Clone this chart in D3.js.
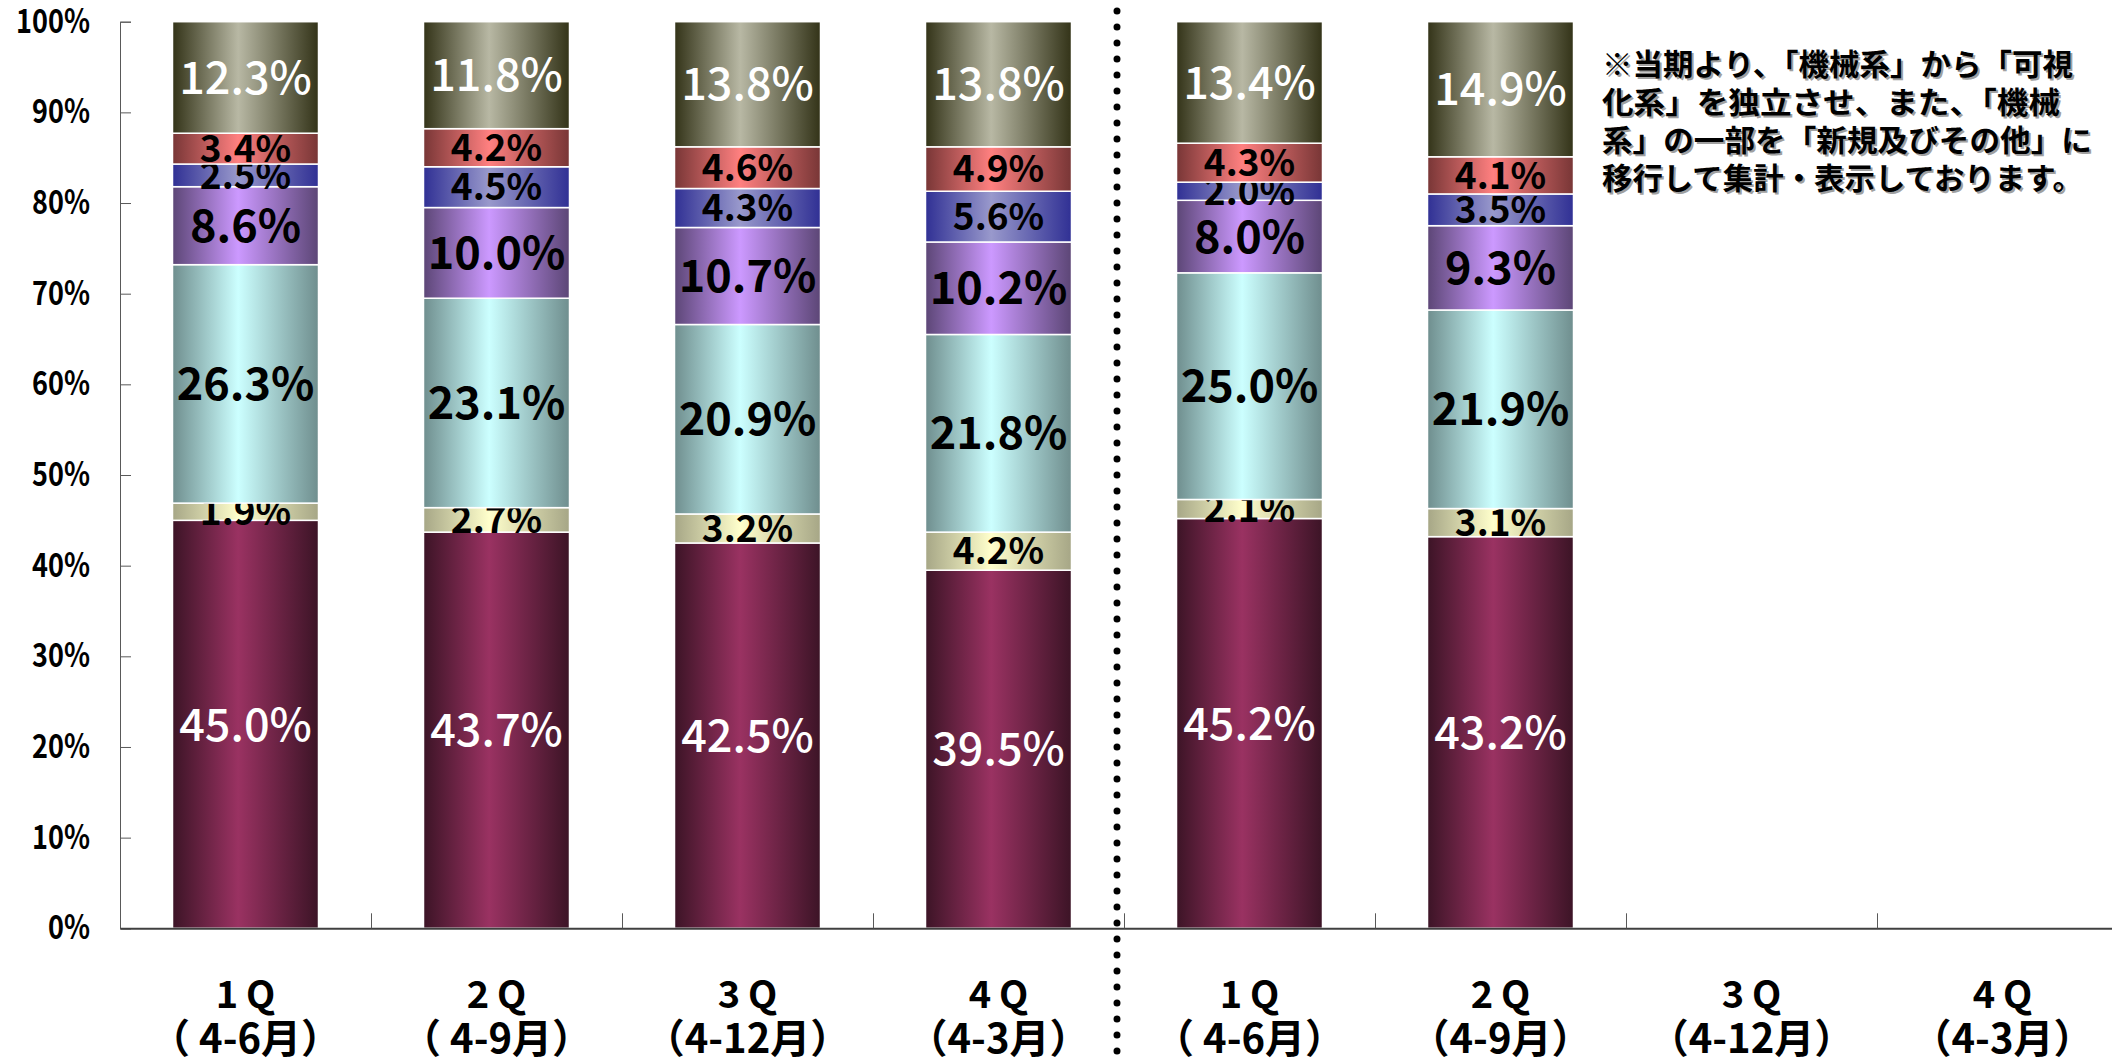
<!DOCTYPE html>
<html>
<head>
<meta charset="utf-8">
<script src="https://cdn.jsdelivr.net/npm/d3@7"></script>
<style>
  html, body { margin: 0; padding: 0; background: #fff; }
  svg { display: block; font-family: "Noto Sans CJK JP", "Noto Sans", sans-serif; }
</style>
</head>
<body>
<svg id="chart" width="2112" height="1064"></svg>
<script>
// categories (two fiscal years, second one only half filled)
const quarters = ['1Q', '2Q', '3Q', '4Q', '1Q', '2Q', '3Q', '4Q']
const periods = ['（ 4-6月）', '（ 4-9月）', '（4-12月）', '（4-3月）', '（ 4-6月）', '（4-9月）', '（4-12月）', '（4-3月）']

// shares per bar, bottom segment first
const maroon = [45.0, 43.7, 42.5, 39.5, 45.2, 43.2]
const yellow = [1.9, 2.7, 3.2, 4.2, 2.1, 3.1]
const cyan = [26.3, 23.1, 20.9, 21.8, 25.0, 21.9]
const purple = [8.6, 10.0, 10.7, 10.2, 8.0, 9.3]
const blue = [2.5, 4.5, 4.3, 5.6, 2.0, 3.5]
const salmon = [3.4, 4.2, 4.6, 4.9, 4.3, 4.1]
const olive = [12.3, 11.8, 13.8, 13.8, 13.4, 14.9]

const yTicks = [0, 0.1, 0.2, 0.3, 0.4, 0.5, 0.6, 0.7, 0.8, 0.9, 1]

const note = [
  '※当期より、「機械系」から「可視',
  '化系」を独立させ、また、「機械',
  '系」の一部を「新規及びその他」に',
  '移行して集計・表示しております。'
]

const series = [
  { key: 'maroon', values: maroon, dark: '#3c1426', light: '#9a3262', text: '#fff', small: false },
  { key: 'yellow', values: yellow, dark: '#a6a686', light: '#ffffcc', text: '#000', small: true },
  { key: 'cyan', values: cyan, dark: '#6f8e8e', light: '#ccffff', text: '#000', small: false },
  { key: 'purple', values: purple, dark: '#5c4676', light: '#cc99ff', text: '#000', small: false },
  { key: 'blue', values: blue, dark: '#303094', light: '#9999cc', text: '#000', small: true },
  { key: 'salmon', values: salmon, dark: '#783636', light: '#ff8080', text: '#000', small: true },
  { key: 'olive', values: olive, dark: '#333318', light: '#b8b8a4', text: '#fff', small: false }
]

const svg = d3.select('#chart')
const x0 = 120
const step = 251
const barW = 146
const pad = (step - barW) / step

const x = d3.scaleBand()
  .domain(d3.range(quarters.length))
  .range([x0, x0 + step * quarters.length])
  .paddingInner(pad)
  .paddingOuter(pad / 2)

const y = d3.scaleLinear().domain([0, 1]).range([928.3, 21.7])

// horizontal gradients: dark edges, light middle
const defs = svg.append('defs')
series.forEach(s => {
  const g = defs.append('linearGradient')
    .attr('id', 'grad-' + s.key)
    .attr('x1', '0').attr('x2', '1').attr('y1', '0').attr('y2', '0')
  g.append('stop').attr('offset', '0').attr('stop-color', s.dark)
  g.append('stop').attr('offset', '0.45').attr('stop-color', s.light)
  g.append('stop').attr('offset', '1').attr('stop-color', s.dark)
})

// stack the series
const rows = maroon.map((_, i) => {
  const r = {}
  series.forEach(s => { r[s.key] = s.values[i] / 100 })
  return r
})
const stacked = d3.stack().keys(series.map(s => s.key))(rows)

// y axis (labels squeezed a bit, the original font is narrow)
const sx = 0.82
svg.append('g')
  .attr('class', 'y-axis')
  .attr('transform', 'translate(' + x0 + ',0)')
  .call(d3.axisLeft(y).tickValues(yTicks).tickSize(-11).tickPadding(30).tickFormat(d3.format('.0%')))
  .call(g => g.select('.domain').attr('stroke', '#595959'))
  .call(g => g.selectAll('.tick line').attr('stroke', '#595959'))
  .call(g => g.selectAll('.tick text')
    .attr('x', -30 / sx)
    .attr('transform', 'scale(' + sx + ',1)')
    .attr('font-size', 33).attr('font-weight', 'bold').attr('fill', '#000')
    .attr('font-family', '"Noto Sans CJK JP", sans-serif'))

// bars
const layers = svg.append('g').selectAll('g')
  .data(stacked)
  .join('g')
  .attr('fill', (d, i) => 'url(#grad-' + series[i].key + ')')

layers.selectAll('rect')
  .data(d => d)
  .join('rect')
  .attr('x', (d, i) => x(i))
  .attr('y', d => y(d[1]))
  .attr('width', x.bandwidth())
  .attr('height', d => y(d[0]) - y(d[1]))
  .attr('stroke', '#fff')
  .attr('stroke-width', 1.5)

// x axis: baseline with boundary ticks
const xb = d3.scaleLinear().domain([0, quarters.length]).range([x0, x0 + step * quarters.length])
svg.append('g')
  .attr('transform', 'translate(0,' + y(0) + ')')
  .call(d3.axisBottom(xb).tickValues(d3.range(1, quarters.length)).tickSize(-15).tickSizeOuter(0).tickFormat(''))
  .call(g => g.select('.domain').attr('stroke', '#404040').attr('stroke-width', 2))
  .call(g => g.selectAll('.tick line').attr('stroke', '#595959'))

// data labels
layers.each(function (layer, si) {
  const s = series[si]
  d3.select(this).selectAll('text')
    .data(layer)
    .join('text')
    .attr('x', (d, i) => x(i) + x.bandwidth() / 2)
    .attr('y', d => (y(d[0]) + y(d[1])) / 2)
    .attr('dy', '0.36em')
    .attr('text-anchor', 'middle')
    .attr('font-size', s.small ? 37 : 45)
    .attr('font-weight', s.text === '#fff' ? 500 : 'bold')
    .attr('fill', s.text)
    .text(d => d3.format('.1f')((d[1] - d[0]) * 100) + '%')
})

// category labels
const cats = svg.append('g').selectAll('g')
  .data(quarters)
  .join('g')
  .attr('transform', (d, i) => 'translate(' + (x(i) + x.bandwidth() / 2) + ',0)')
cats.append('text')
  .attr('y', 994).attr('dy', '0.36em')
  .attr('text-anchor', 'middle').attr('font-size', 38).attr('font-weight', 'bold')
  .attr('letter-spacing', 8).attr('dx', 4)
  .text(d => d)
cats.append('text')
  .attr('y', 1039).attr('dy', '0.36em')
  .attr('text-anchor', 'middle').attr('font-size', 40).attr('font-weight', 'bold')
  .text((d, i) => periods[i])

// dotted separator between the two years
svg.append('line')
  .attr('x1', 1117).attr('x2', 1117)
  .attr('y1', 11).attr('y2', 1064)
  .attr('stroke', '#000').attr('stroke-width', 7)
  .attr('stroke-linecap', 'round')
  .attr('stroke-dasharray', '0 16')

// note with a soft shadow
const noteLens = [471, 458, 490, 481]
const noteG = svg.append('g').attr('transform', 'translate(1602,0)')
;[['#a0a0a0', 2], ['#000', 0]].forEach(([c, off]) => {
  noteG.append('g').selectAll('text')
    .data(note)
    .join('text')
    .attr('x', off)
    .attr('y', (d, i) => 64 + i * 38 + off)
    .attr('dy', '0.36em')
    .attr('font-size', 30)
    .attr('font-weight', 'bold')
    .attr('fill', c)
    .attr('textLength', (d, i) => noteLens[i])
    .attr('lengthAdjust', 'spacingAndGlyphs')
    .text(d => d)
})
</script>
</body>
</html>
